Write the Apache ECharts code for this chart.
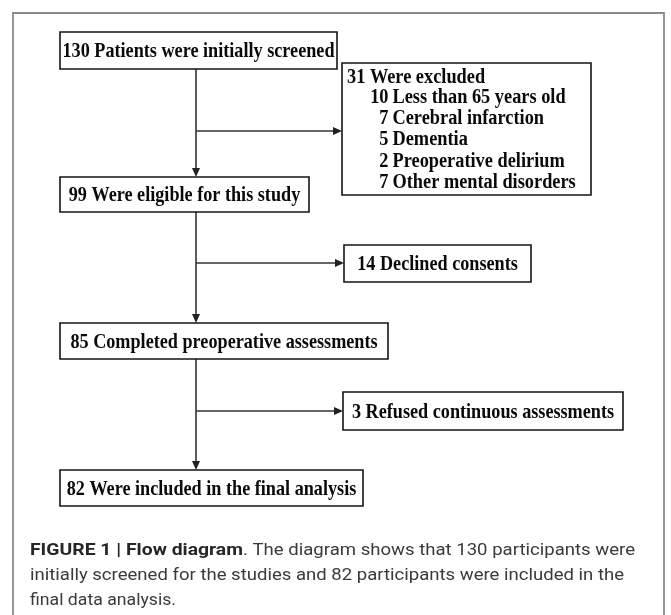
<!DOCTYPE html>
<html><head><meta charset="utf-8">
<script src="https://cdn.jsdelivr.net/npm/echarts@6/dist/echarts.min.js"></script>
<style>html,body{margin:0;padding:0;background:#fff}#c{width:671px;height:615px}</style>
</head><body><div id="c"></div>
<script>
// ---------------- data ----------------
const stageCounts = [130, 99, 85, 82];
const stageLabels = ['Patients were initially screened', 'Were eligible for this study', 'Completed preoperative assessments', 'Were included in the final analysis'];
const exclCounts = [31, 14, 3];
const exclLabels = ['Were excluded', 'Declined consents', 'Refused continuous assessments'];
const reasonCounts = [10, 7, 5, 2, 7];
const reasonLabels = ['Less than 65 years old', 'Cerebral infarction', 'Dementia', 'Preoperative delirium', 'Other mental disorders'];
const captionBold = 'FIGURE 1 | Flow diagram';
const captionLines = ['. The diagram shows that 130 participants were', 'initially screened for the studies and 82 participants were included in the', 'final data analysis.'];

// ---------------- layout (pixel space, mapped through hidden axes) ----------------
const stageBoxes = [[60, 32, 337, 69], [60, 177, 309, 212], [60, 323, 388, 359], [60, 470, 363, 506]];
const exclBoxes = [[342, 63, 591, 195], [344, 245, 531, 282], [343, 392, 623, 430]];
const spineX = 196;
const branchY = [131, 263, 411];
const exclLineY = [78, 98, 119, 140, 162, 183];
const captionY = [551, 576, 601];
const captionBoldW = 213;
const captionLineW = [392, 594, 146];

const SERIF = '"Liberation Serif","Times New Roman",serif';
const stageFont = 'bold 22px ' + SERIF;
const exclFont = 'bold 20px ' + SERIF;
const capFamily = 'Roboto, "Liberation Sans", sans-serif';
const capSize = 17;
const capBoldFont = 'bold ' + capSize + 'px ' + capFamily;
const capRegFont = capSize + 'px ' + capFamily;

const cv = document.createElement('canvas').getContext('2d');
function measure(font, t) { cv.font = font; return cv.measureText(t).width; }
const stageScale = 272 / measure(stageFont, stageCounts[0] + ' ' + stageLabels[0]);
const exclScale = 196 / measure(exclFont, reasonCounts[0] + ' ' + reasonLabels[0]);
const capBoldScale = captionBoldW / measure(capBoldFont, captionBold);
const capRegScales = captionLines.map((l, i) => captionLineW[i] / measure(capRegFont, l));

function txt(x, y, text, font, scale, align, fill) {
  return {
    type: 'text', x: x, y: y, scaleX: scale, silent: true,
    style: { text: text, font: font, fill: fill || '#0a0a0a', textAlign: align, align: align, textVerticalAlign: 'middle', verticalAlign: 'middle' }
  };
}
function boxRect(p0, p1) {
  return { type: 'rect', shape: { x: p0[0], y: p0[1], width: p1[0] - p0[0], height: p1[1] - p0[1] },
    style: { fill: '#fff', stroke: '#141414', lineWidth: 1.6 } };
}

// arrows derived from box layout
const arrows = [];
for (let i = 0; i < 3; i++) arrows.push([spineX, stageBoxes[i][3], spineX, stageBoxes[i + 1][1]]);
for (let i = 0; i < 3; i++) arrows.push([spineX, branchY[i], exclBoxes[i][0], branchY[i]]);

const captionGraphics = [
  txt(30, captionY[0], captionBold, capBoldFont, capBoldScale, 'left', '#262626'),
  txt(30 + captionBoldW, captionY[0], captionLines[0], capRegFont, capRegScales[0], 'left', '#3a3a3a'),
  txt(30, captionY[1], captionLines[1], capRegFont, capRegScales[1], 'left', '#3a3a3a'),
  txt(30, captionY[2], captionLines[2], capRegFont, capRegScales[2], 'left', '#3a3a3a')
];

const option = {
  animation: false,
  grid: { left: 0, right: 0, top: 0, bottom: 0 },
  xAxis: { type: 'value', min: 0, max: 671, show: false },
  yAxis: { type: 'value', min: 0, max: 615, inverse: true, show: false },
  graphic: [
    { type: 'polyline', silent: true, shape: { points: [[13, 640], [13, 13], [664, 13], [664, 640]] },
      style: { fill: null, stroke: '#8a8a8a', lineWidth: 1.8 } }
  ].concat(captionGraphics),
  series: [
    {
      type: 'custom', name: 'arrows', coordinateSystem: 'cartesian2d', clip: false, silent: true,
      data: arrows.map((a, i) => [i]),
      renderItem: function (params, api) {
        const a = arrows[api.value(0)];
        const p0 = api.coord([a[0], a[1]]), p1 = api.coord([a[2], a[3]]);
        const dx = p1[0] - p0[0], dy = p1[1] - p0[1];
        const len = Math.sqrt(dx * dx + dy * dy), ux = dx / len, uy = dy / len;
        const L = 9, W = 4;
        const bx = p1[0] - ux * L, by = p1[1] - uy * L;
        return { type: 'group', children: [
          { type: 'line', shape: { x1: p0[0], y1: p0[1], x2: bx, y2: by }, style: { stroke: '#333', lineWidth: 1.6 } },
          { type: 'polygon', shape: { points: [[p1[0], p1[1]], [bx - uy * W, by + ux * W], [bx + uy * W, by - ux * W]] }, style: { fill: '#222' } }
        ] };
      }
    },
    {
      type: 'custom', name: 'stages', coordinateSystem: 'cartesian2d', clip: false, silent: true,
      data: stageCounts.map((c, i) => [i, c]),
      renderItem: function (params, api) {
        const i = api.value(0), b = stageBoxes[i];
        const p0 = api.coord([b[0], b[1]]), p1 = api.coord([b[2], b[3]]);
        return { type: 'group', children: [
          boxRect(p0, p1),
          txt((p0[0] + p1[0]) / 2, (p0[1] + p1[1]) / 2 + 1, api.value(1) + ' ' + stageLabels[i], stageFont, stageScale, 'center')
        ] };
      }
    },
    {
      type: 'custom', name: 'exclusions', coordinateSystem: 'cartesian2d', clip: false, silent: true,
      data: exclCounts.map((c, i) => [i, c]),
      renderItem: function (params, api) {
        const i = api.value(0), b = exclBoxes[i];
        const p0 = api.coord([b[0], b[1]]), p1 = api.coord([b[2], b[3]]);
        const kids = [boxRect(p0, p1)];
        if (i === 0) {
          const q = api.coord([347, exclLineY[0]]);
          kids.push(txt(q[0], q[1], api.value(1) + ' ' + exclLabels[i], exclFont, exclScale, 'left'));
          reasonCounts.forEach(function (rc, k) {
            const n = api.coord([388.5, exclLineY[k + 1]]);
            const t = api.coord([392.5, exclLineY[k + 1]]);
            kids.push(txt(n[0], n[1], String(rc), exclFont, exclScale, 'right'));
            kids.push(txt(t[0], t[1], reasonLabels[k], exclFont, exclScale, 'left'));
          });
        } else {
          kids.push(txt((p0[0] + p1[0]) / 2, (p0[1] + p1[1]) / 2 + 1, api.value(1) + ' ' + exclLabels[i], stageFont, stageScale, 'center'));
        }
        return { type: 'group', children: kids };
      }
    }
  ]
};
const chart = echarts.init(document.getElementById('c'));
chart.setOption(option);
</script>
</body></html>
